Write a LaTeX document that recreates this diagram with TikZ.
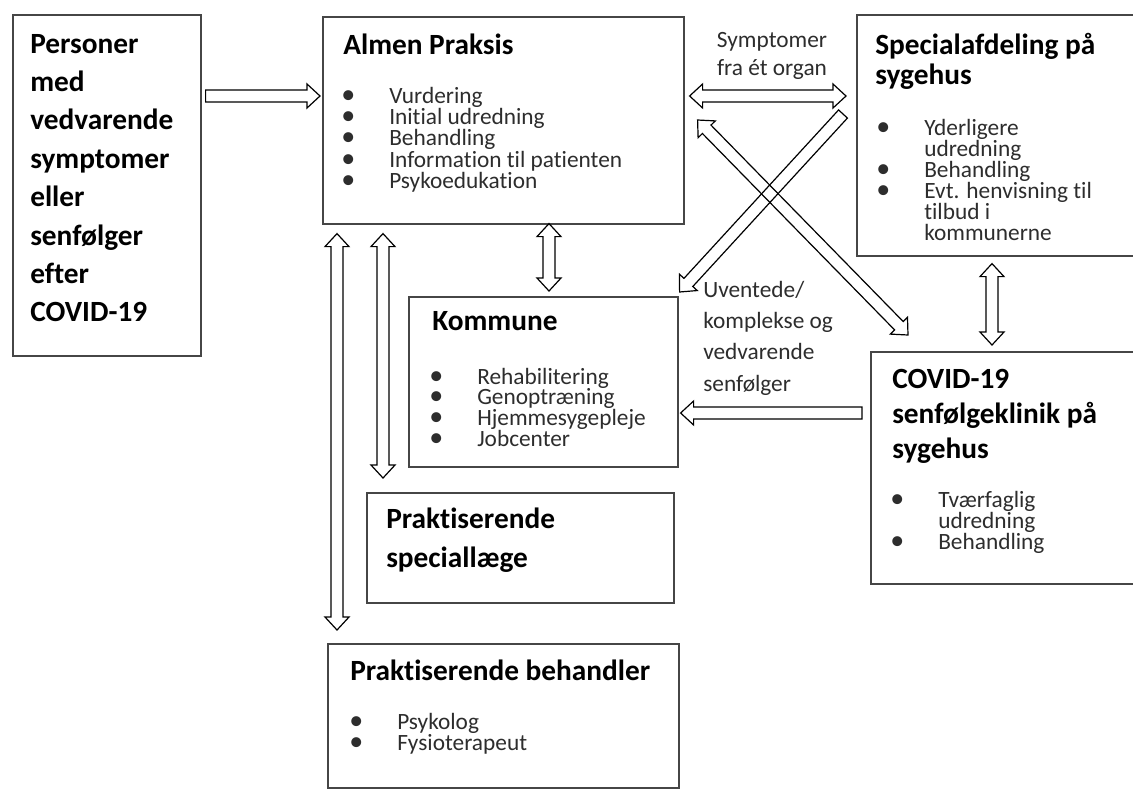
\documentclass[tikz,border=0pt]{standalone}
\usepackage{fontspec}
\setmainfont{Carlito}[Ligatures=NoCommon]
\usetikzlibrary{calc}
\definecolor{figedge}{RGB}{70,70,70}
\definecolor{figtext}{RGB}{45,45,45}
\newcommand{\itm}{\makebox[36pt][l]{{\fontsize{21}{15}\selectfont\textbullet}}}
\newcommand{\cnt}{\hspace*{36pt}}
\tikzset{
  box/.style ={draw=figedge, line width=1.2pt, inner sep=0pt, anchor=north west},
  ttl/.style ={font=\bfseries\fontsize{22}{#1}\selectfont, inner sep=0pt, anchor=base west},
  itms/.style={font=\fontsize{17.5}{#1}\selectfont, text=figtext, inner sep=0pt, anchor=base west},
  blk/.style ={draw=black, line width=0.9pt, line join=miter, to path={
    (\tikztotarget)
    -- ($(\tikztotarget)!9.75pt!(\tikztostart)!9pt!90:(\tikztostart)$)
    -- ($(\tikztotarget)!9.75pt!(\tikztostart)!4.5pt!90:(\tikztostart)$)
    -- ($(\tikztostart)!4.5pt!-90:(\tikztotarget)$)
    -- ($(\tikztostart)!4.5pt!90:(\tikztotarget)$)
    -- ($(\tikztotarget)!9.75pt!(\tikztostart)!4.5pt!-90:(\tikztostart)$)
    -- ($(\tikztotarget)!9.75pt!(\tikztostart)!9pt!-90:(\tikztostart)$)
    -- cycle}},
  dblk/.style={draw=black, line width=0.9pt, line join=miter, to path={
    (\tikztotarget)
    -- ($(\tikztotarget)!9.75pt!(\tikztostart)!9pt!90:(\tikztostart)$)
    -- ($(\tikztotarget)!9.75pt!(\tikztostart)!4.5pt!90:(\tikztostart)$)
    -- ($(\tikztostart)!9.75pt!(\tikztotarget)!4.5pt!-90:(\tikztotarget)$)
    -- ($(\tikztostart)!9.75pt!(\tikztotarget)!9pt!-90:(\tikztotarget)$)
    -- (\tikztostart)
    -- ($(\tikztostart)!9.75pt!(\tikztotarget)!9pt!90:(\tikztotarget)$)
    -- ($(\tikztostart)!9.75pt!(\tikztotarget)!4.5pt!90:(\tikztotarget)$)
    -- ($(\tikztotarget)!9.75pt!(\tikztostart)!4.5pt!-90:(\tikztostart)$)
    -- ($(\tikztotarget)!9.75pt!(\tikztostart)!9pt!-90:(\tikztostart)$)
    -- cycle}},
}

\begin{document}
\begin{tikzpicture}[x=0.75pt,y=-0.75pt]
  \fill[white] (0,0) rectangle (1133,790);
  \useasboundingbox (0,0) rectangle (1133,790);
  % boxes
  \node[box, minimum width=141pt, minimum height=255.75pt] (pers) at (12,14) {};
  \node[box, minimum width=270.75pt, minimum height=155.25pt] (alm) at (322,16) {};
  \node[box, minimum width=217.5pt, minimum height=180.75pt] (spec) at (856,14) {};
  \node[box, minimum width=201.75pt, minimum height=127.5pt] (kom) at (408,296) {};
  \node[box, minimum width=210pt, minimum height=174pt] (covid) at (870,351) {};
  \node[box, minimum width=230.25pt, minimum height=82.5pt] (plg) at (366,492) {};
  \node[box, minimum width=263.25pt, minimum height=108pt] (beh) at (327,643) {};
  % texts
  \node[ttl=28.8pt] (persT) at (30,53) {\parbox[t]{140pt}{Personer\\med\\vedvarende\\symptomer\\eller\\senfølger\\efter\\COVID-19}};
  \node[ttl=30pt] (almT) at (343,54) {Almen Praksis};
  \node[itms=16pt] (almL) at (341,103) {\parbox[t]{260pt}{\itm Vurdering\\\itm Initial udredning\\\itm Behandling\\\itm Information til patienten\\\itm Psykoedukation}};
  \node[ttl=22.5pt] (specT) at (875,54) {\parbox[t]{200pt}{Specialafdeling på\\sygehus}};
  \node[itms=15.75pt] (specL) at (876,135) {\parbox[t]{200pt}{\itm Yderligere\\\cnt udredning\\\itm Behandling\\\itm Evt. henvisning til\\\cnt tilbud i\\\cnt kommunerne}};
  \node[ttl=30pt] (komT) at (432,330) {Kommune};
  \node[itms=15.5pt] (komL) at (429,384) {\parbox[t]{200pt}{\itm Rehabilitering\\\itm Genoptræning\\\itm Hjemmesygepleje\\\itm Jobcenter}};
  \node[ttl=26.6pt] (covidT) at (892,388) {\parbox[t]{200pt}{COVID-19\\senfølgeklinik på\\sygehus}};
  \node[itms=15.75pt] (covidL) at (890,507) {\parbox[t]{200pt}{\itm Tværfaglig\\\cnt udredning\\\itm Behandling}};
  \node[ttl=29.25pt] (plgT) at (386,528) {\parbox[t]{200pt}{Praktiserende\\speciallæge}};
  \node[ttl=30pt] (behT) at (350,680) {Praktiserende behandler};
  \node[itms=15.75pt] (behL) at (349,729) {\parbox[t]{200pt}{\itm Psykolog\\\itm Fysioterapeut}};
  % labels
  \node[itms=21pt, anchor=base] (symL) at (772,47) {\parbox[t]{120pt}{\centering Symptomer\\fra ét organ}};
  \node[itms=23.5pt] (uvL) at (703,297) {\parbox[t]{120pt}{Uventede/\\komplekse og\\vedvarende\\senfølger}};
  % arrow ends
  \coordinate (c1s) at ($(pers.north east)+(4,82)$);
  \coordinate (c1t) at ($(alm.north west)+(-2,80)$);
  \coordinate (c2s) at ($(alm.north east)+(5,80)$);
  \coordinate (c2t) at ($(spec.north west)+(-10,82)$);
  \coordinate (c3s) at ($(spec.north west)+(-13,100)$);
  \coordinate (c3t) at ($(kom.north east)+(1,-4)$);
  \coordinate (c4s) at ($(alm.north east)+(13,104)$);
  \coordinate (c4t) at ($(covid.north west)+(38,-16)$);
  \coordinate (c5s) at ($(covid.north west)+(-8,62)$);
  \coordinate (c5t) at ($(kom.north east)+(2,117)$);
  \coordinate (c6s) at ($(alm.south west)+(227,-1)$);
  \coordinate (c6t) at ($(kom.north west)+(141,-5)$);
  \coordinate (c7s) at ($(alm.south west)+(15,9)$);
  \coordinate (c7t) at ($(beh.north west)+(10,-13)$);
  \coordinate (c8s) at ($(alm.south west)+(61,9)$);
  \coordinate (c8t) at ($(plg.north west)+(17,-14)$);
  \coordinate (c9s) at ($(spec.south west)+(136,7)$);
  \coordinate (c9t) at ($(covid.north west)+(122,-6)$);
  % arrows
  \draw[blk] (c1s) to (c1t);
  \draw[dblk] (c2s) to (c2t);
  \draw[blk] (c3s) to (c3t);
  \draw[dblk] (c4s) to (c4t);
  \draw[blk] (c5s) to (c5t);
  \draw[dblk] (c6s) to (c6t);
  \draw[dblk] (c7s) to (c7t);
  \draw[dblk] (c8s) to (c8t);
  \draw[dblk] (c9s) to (c9t);
\end{tikzpicture}
\end{document}
